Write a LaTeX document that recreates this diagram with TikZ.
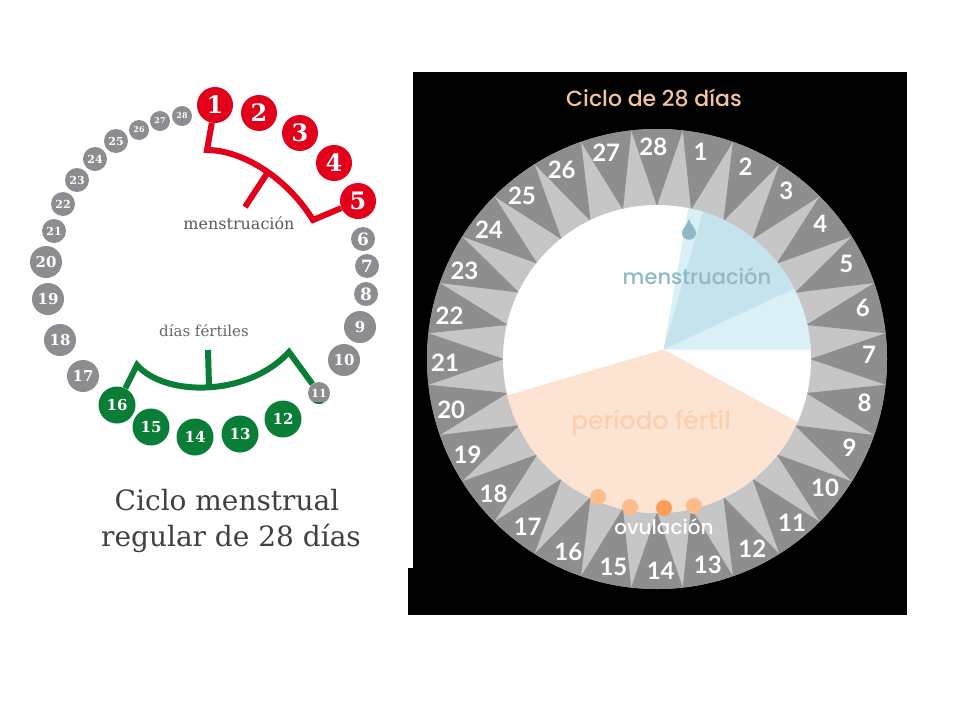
\documentclass[tikz,border=0pt]{standalone}
\usepackage{fontspec}
\newfontfamily\slabfont{DejaVu Serif}
\newfontfamily\roundfont{Poppins Medium}
\newfontfamily\numfont{Lato}
\definecolor{redday}{HTML}{E2001A}
\definecolor{greenday}{HTML}{0A7D37}
\definecolor{grayday}{HTML}{8D8D91}
\definecolor{wedgedark}{HTML}{8F8E8E}
\definecolor{wedgelight}{HTML}{C6C6C6}
\definecolor{bluelight}{HTML}{D9F0F6}
\definecolor{bluedark}{HTML}{C4E3EC}
\definecolor{bluetext}{HTML}{8FB9C4}
\definecolor{peachfill}{HTML}{FDE3D2}
\definecolor{peachtext}{HTML}{FBD0B0}
\definecolor{dotlight}{HTML}{FBBD8C}
\definecolor{dotdark}{HTML}{F99E59}
\definecolor{titlepeach}{HTML}{F2C3A0}
\tikzset{
  daynode/.style={circle,inner sep=0pt,text=white,font=\slabfont\bfseries\fontsize{#1}{#1}\selectfont},
  daylarge/.style={daynode=24,minimum size=36pt},
  daygreen/.style={daynode=15,minimum size=37pt,fill=greenday},
  daymid/.style={daynode=15,minimum size=32pt,fill=grayday},
  daysmall/.style={daynode=11,minimum size=24pt,fill=grayday},
  daytiny/.style={daynode=8,minimum size=20pt,fill=grayday},
  redline/.style={draw=redday,line width=6pt},
  greenline/.style={draw=greenday,line width=6pt},
  wedgelabel/.style={text=white,font=\numfont\bfseries\fontsize{24}{24}\selectfont},
}
\begin{document}
\begin{tikzpicture}[x=1pt,y=-1pt]
  \useasboundingbox (0,0) rectangle (960,720);

  % Left: days around the ring
  \foreach \d/\px/\py in {1/215/105,2/259/113,3/300/133,4/334/163,5/358/201}
    \node [daylarge,fill=redday] (left\d) at (\px,\py) {\d};
  \foreach \d/\px/\py in {12/283/419,13/240/434,14/195/437,15/151/427,16/117/405}
    \node [daygreen] (left\d) at (\px,\py) {\d};
  \foreach \d/\px/\py in {9/360/327,10/344/360,17/83/376,18/60/340,19/48/299,20/46/262}
    \node [daymid] (left\d) at (\px,\py) {\d};
  \foreach \d/\px/\py in {21/54/231,22/63/204,23/77/180,24/95/159,25/116/141}
    \node [daysmall] (left\d) at (\px,\py) {\d};
  \foreach \d/\px/\py in {6/363/239,7/367/266,8/366/294}
    \node [daysmall,daynode=17] (left\d) at (\px,\py) {\d};
  \foreach \d/\px/\py in {26/139/130,27/160/121,28/182/116}
    \node [daytiny] (left\d) at (\px,\py) {\d};

  % Day 11 is half grey, half green
  \node [daysmall,minimum size=22pt,
    path picture={\fill [greenday] (-12,5) rectangle (12,12);}] (left11) at (319,393) {11};

  % Menstruation bracket
  \coordinate (redA) at (207,150);
  \coordinate (redB) at (313,220);
  \coordinate (redC) at (268,172);
  \coordinate (redD) at (245,207);
  \draw [redline] (left1) -- (redA) .. controls (240,150) and (285,175) .. (redB) -- (left5);
  \draw [redline] (redC) -- (redD);

  % Fertile days bracket
  \coordinate (greenA) at (137,365);
  \coordinate (greenB) at (289,352);
  \coordinate (greenC) at (209,386);
  \coordinate (greenD) at (208,350);
  \draw [greenline] (left16) -- (greenA) .. controls (165,397) and (248,397) .. (greenB) -- (left11);
  \draw [greenline] (greenC) -- (greenD);

  % Left labels
  \node [text=black!65,font=\slabfont\fontsize{16}{16}\selectfont] (menstleft) at (239,223) {menstruación};
  \node [text=black!60,font=\slabfont\fontsize{15}{15}\selectfont] (fertleft) at (204,331) {días fértiles};
  \node [text=black!75,font=\slabfont\fontsize{28}{28}\selectfont] (titleone) at (227,500) {Ciclo menstrual};
  \node [text=black!75,font=\slabfont\fontsize{28}{28}\selectfont] (titletwo) at (231,538) {regular de 28 días};

  % Black panel
  \fill [black] (413,72) rectangle (907,615);
  \fill [black] (408,568) rectangle (413,615);
  \node [text=titlepeach,font=\roundfont\fontsize{22}{22}\selectfont] (titleright) at (654,98) {Ciclo de 28 días};

  \begin{scope}[shift={(657,359)},y=1pt]
    % Outer ring and its wedges
    \fill [wedgelight] (0,0) circle (230);
    \foreach \d in {1,...,28} {
      \pgfmathsetmacro{\a}{90-360/28*\d}
      \fill [wedgedark] (\a:153) -- (\a-6.43:230) arc (\a-6.43:\a+6.43:230) -- cycle;
      \node [wedgelabel] (day\d) at (\a+1:212) {\d};
    }

    % Inner disc
    \fill [white] (0,0) circle (154);
    \begin{scope}
      \clip (0,0) circle (154);
      \begin{scope}[shift={(6.5,9.5)}]
        \fill [bluelight] (0,0) -- (0:220) arc (0:80:220) -- cycle;
        \fill [bluedark] (0,0) -- (25:220) arc (25:74:220) -- cycle;
        \fill [peachfill] (0,0) -- (196.4:220) arc (196.4:331.6:220) -- cycle;
      \end{scope}
    \end{scope}
  \end{scope}

  % Drop
  \fill [bluetext] (689,219) .. controls (691,226) and (696,228) .. (696,233)
    .. controls (696,242) and (682,242) .. (682,233)
    .. controls (682,228) and (687,226) .. (689,219);

  % Ovulation dots
  \fill [dotlight] (598,497) circle (8);
  \fill [dotlight] (630,507) circle (8);
  \fill [dotdark] (664,508) circle (8);
  \fill [dotlight] (694,506) circle (8);

  % Right labels
  \node [text=bluetext,font=\roundfont\fontsize{21}{21}\selectfont] (menstright) at (697,276) {menstruación};
  \node [text=peachtext,font=\roundfont\fontsize{25}{25}\selectfont] (fertright) at (651,423) {período fértil};
  \node [text=white,font=\roundfont\fontsize{20}{20}\selectfont] (ovulright) at (664,527) {ovulación};
\end{tikzpicture}
\end{document}
